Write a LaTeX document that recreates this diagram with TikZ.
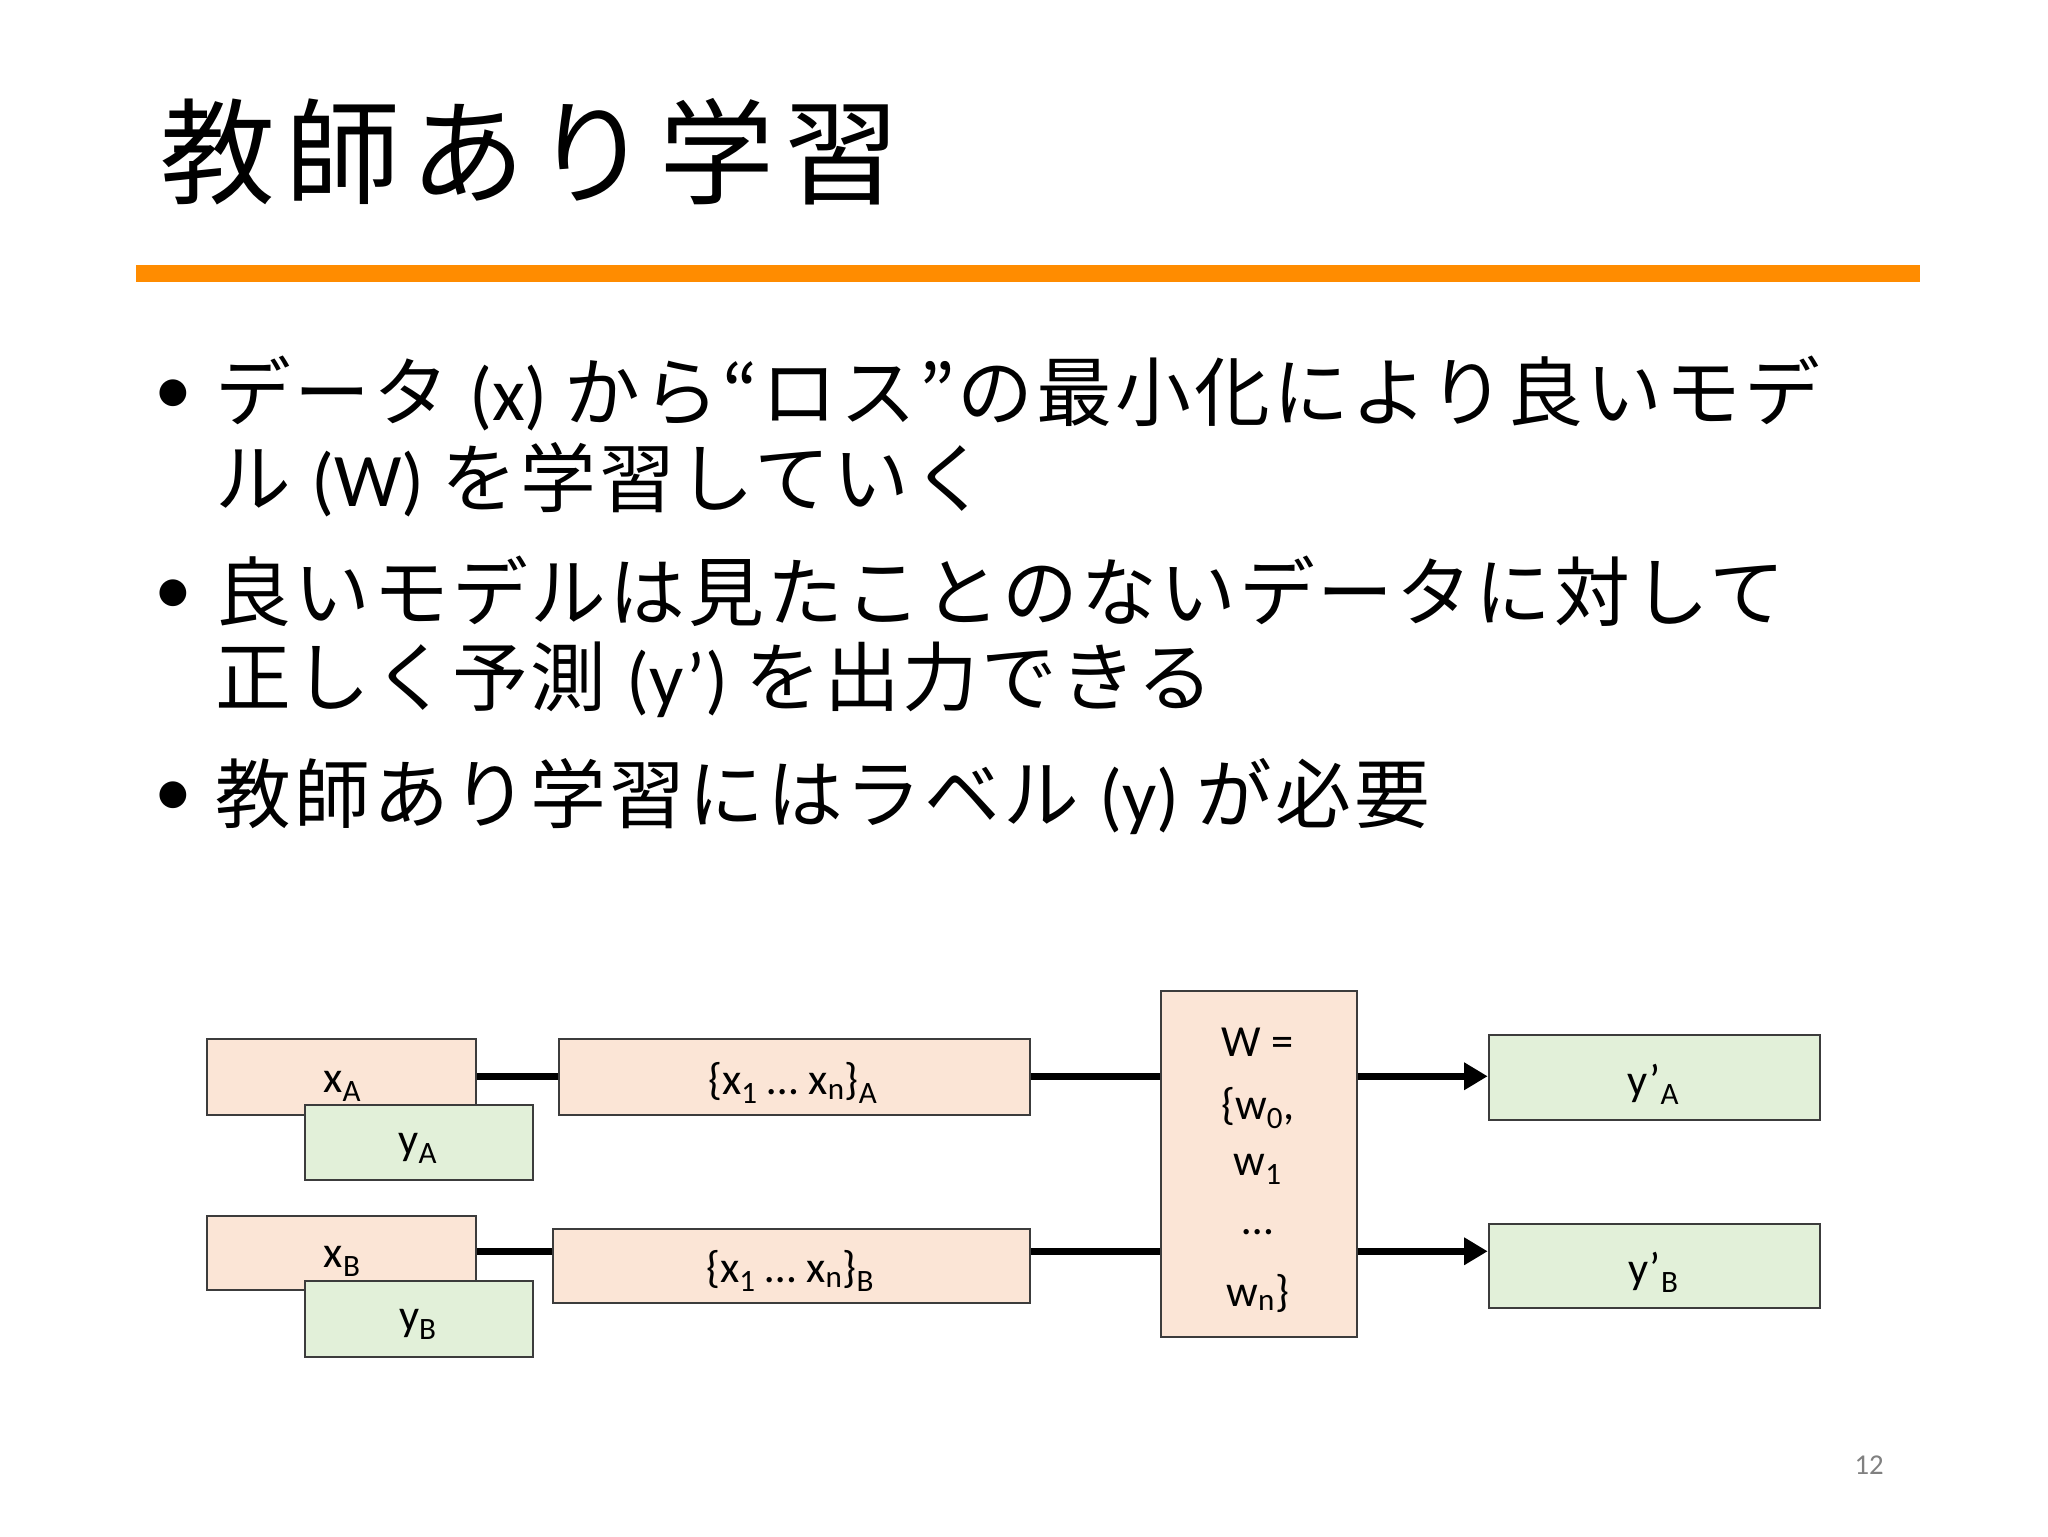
\documentclass[tikz,border=0pt]{standalone}
\usepackage{fontspec}
\setmainfont{Carlito}
\newfontfamily\cjk[LetterSpace=4]{Noto Sans CJK JP}
\newfontfamily\cjkt[LetterSpace=8.5]{Noto Sans CJK JP}
\usetikzlibrary{arrows.meta}
\definecolor{peach}{RGB}{251,229,214}
\definecolor{lgreen}{RGB}{226,240,217}
\definecolor{orng}{RGB}{255,140,0}
\definecolor{bord}{RGB}{60,60,60}
\tikzset{
 box/.style={draw=bord,line width=1.5pt,anchor=north west,inner sep=0pt},
 lab/.style={font=\fontsize{34}{38}\selectfont,inner sep=0pt},
 body/.style={anchor=base west,inner sep=0pt,font=\fontsize{58}{64}\selectfont},
 conn/.style={line width=5pt},
 arr/.style={line width=5pt,-{Triangle[length=18pt,width=20pt]}}
}
\begin{document}
\begin{tikzpicture}[x=1pt,y=-1pt]
\fill[white] (0,0) rectangle (1568,1176);
\useasboundingbox (0,0) rectangle (1568,1176);
\node[anchor=base west,inner sep=0pt,font=\fontsize{88}{96}\selectfont\cjkt] (title) at (123,150) {教師あり学習};
\fill[orng] (104,203) rectangle (1470,216);
\foreach \y/\n in {322/b1,475/b2,630/b3}{\node[inner sep=0pt,font=\fontsize{58}{64}\selectfont] (\n) at (133,\y-18) {•};}
\node[body] (l1) at (165,322) {\cjk データ \normalfont(x) \cjk から“ロス”の最小化により良いモデ};
\node[body] (l2) at (165,388) {\cjk ル \normalfont(W) \cjk を学習していく};
\node[body] (l3) at (165,475) {\cjk 良いモデルは見たことのないデータに対して};
\node[body] (l4) at (165,540) {\cjk 正しく予測 \normalfont(y’) \cjk を出力できる};
\node[body] (l5) at (165,630) {\cjk 教師あり学習にはラベル \normalfont(y) \cjk が必要};
% diagram
\node[box,fill=peach,minimum width=206pt,minimum height=58pt] (xA) at (158,795) {};
\node[lab] at (262,832) {x\textsubscript{A}};
\node[box,fill=lgreen,minimum width=174pt,minimum height=58pt] (yA) at (233,845) {};
\node[lab] at (320,879) {y\textsubscript{A}};
\node[box,fill=peach,minimum width=206pt,minimum height=57pt] (xB) at (158,930) {};
\node[lab] at (262,966) {x\textsubscript{B}};
\node[box,fill=lgreen,minimum width=174pt,minimum height=58pt] (yB) at (233,980) {};
\node[lab] at (320,1014) {y\textsubscript{B}};
\node[box,fill=peach,minimum width=361pt,minimum height=58pt] (sA) at (427,795) {};
\node[lab] at (607,829) {\{x\textsubscript{1} … x\textsubscript{n}\}\textsubscript{A}};
\node[box,fill=peach,minimum width=365pt,minimum height=57pt] (sB) at (423,940) {};
\node[lab] at (605,973) {\{x\textsubscript{1} … x\textsubscript{n}\}\textsubscript{B}};
\node[box,fill=peach,minimum width=150pt,minimum height=265pt] (W) at (888,758) {};
\node[lab] at (963,798) {W =};
\node[lab] at (963,848) {\{w\textsubscript{0},};
\node[lab] at (963,895) {w\textsubscript{1}};
\node[lab] at (963,943) {…};
\node[lab] at (963,990) {w\textsubscript{n}\}};
\node[box,fill=lgreen,minimum width=254pt,minimum height=65pt] (pA) at (1139,792) {};
\node[lab] at (1266,830) {y’\textsubscript{A}};
\node[box,fill=lgreen,minimum width=254pt,minimum height=65pt] (pB) at (1139,936) {};
\node[lab] at (1266,974) {y’\textsubscript{B}};
\draw[conn] (xA.east|-0,824) -- (sA.west|-0,824);
\draw[conn] (sA.east|-0,824) -- (W.west|-0,824);
\draw[arr] (W.east|-0,824) -- (pA.west|-0,824);
\draw[conn] (xB.east|-0,958) -- (sB.west|-0,958);
\draw[conn] (sB.east|-0,958) -- (W.west|-0,958);
\draw[arr] (W.east|-0,958) -- (pB.west|-0,958);
\node[inner sep=0pt,text=gray,font=\fontsize{22}{24}\selectfont] (pg) at (1431,1122) {12};
\end{tikzpicture}
\end{document}
